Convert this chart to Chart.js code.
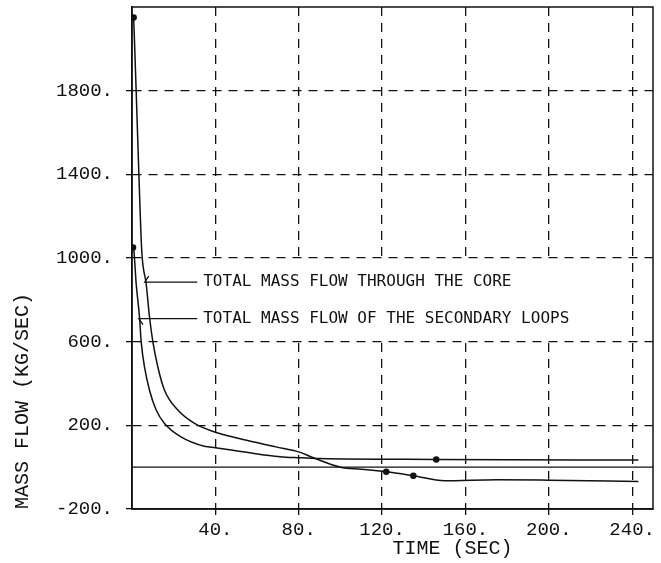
<!DOCTYPE html>
<html>
<head>
<meta charset="utf-8">
<script src="https://cdn.jsdelivr.net/npm/chart.js@4.4.1/dist/chart.umd.min.js"></script>
<style>
  html, body { margin: 0; padding: 0; background: #fff; }
</style>
</head>
<body>
<canvas id="massFlowChart" width="661" height="563"></canvas>
<script>
// values (time in s, flow in kg/s)
const coreTime = [0.8, 2.0, 3.3, 4.7, 6.8, 8.4, 10, 12.4, 15.6, 22, 30, 40, 55, 69, 80, 87, 100, 110, 122, 135, 150, 175, 200, 243];
const coreFlow = [2150, 1800, 1400, 1030, 877, 718, 600, 479, 368, 273, 209, 167, 129, 97, 73, 45, 0, -10, -22, -41, -65, -60, -62, -68];
const coreMarks = [0.8, 122, 135];

const secTime = [0.5, 0.9, 2.0, 3.6, 4.4, 6, 8.4, 11.6, 15.6, 23.5, 34.7, 40, 49, 55, 71, 80, 90, 146, 243];
const secFlow = [1050, 1036, 877, 718, 600, 479, 368, 273, 209, 145, 100, 93, 80, 71, 50, 45, 41, 37, 34];
const secMarks = [0.5, 146];

const zeroTime = [0, 250];
const zeroFlow = [0, 0];

const xTicks = [40, 80, 120, 160, 200, 240];
const yTicks = [-200, 200, 600, 1000, 1400, 1800];

const ink = '#111';
const mono = '"Liberation Mono", "DejaVu Sans Mono", monospace';

function pts(xs, ys) {
    return xs.map((x, i) => ({ x: x, y: ys[i] }));
}

// labels with leader arrows, in data units
const notes = [
    { text: 'TOTAL MASS FLOW THROUGH THE CORE', t: 6.1, v: 885, end: 31.3, barb: -1 },
    { text: 'TOTAL MASS FLOW OF THE SECONDARY LOOPS', t: 3.3, v: 710, end: 31.3, barb: 1 }
];

const plotDecor = {
    id: 'plotDecor',
    afterDatasetsDraw(chart) {
        const ctx = chart.ctx;
        const a = chart.chartArea;
        const xs = chart.scales.x, ys = chart.scales.y;
        ctx.save();
        ctx.font = '16px "DejaVu Sans Mono", monospace';

        // grid is broken behind the labels in the original
        const boxLeft = xs.getPixelForValue(notes[0].end) + 3;
        const boxRight = boxLeft + Math.max(...notes.map(n => ctx.measureText(n.text).width)) + 8;
        const boxTop = ys.getPixelForValue(1000) + 2;
        const boxBottom = ys.getPixelForValue(600) - 2;
        ctx.fillStyle = '#fff';
        ctx.fillRect(boxLeft, boxTop, boxRight - boxLeft, boxBottom - boxTop);

        ctx.strokeStyle = ink;
        ctx.fillStyle = ink;
        ctx.lineWidth = 1.5;
        ctx.setLineDash([]);
        ctx.strokeRect(a.left, a.top, a.right - a.left, a.bottom - a.top);

        ctx.lineWidth = 1.3;
        ctx.textAlign = 'left';
        ctx.textBaseline = 'middle';
        notes.forEach(n => {
            const tx = xs.getPixelForValue(n.t);
            const ty = ys.getPixelForValue(n.v);
            const ex = xs.getPixelForValue(n.end);
            ctx.beginPath();
            ctx.moveTo(ex, ty);
            ctx.lineTo(tx, ty);
            ctx.lineTo(tx + 4, ty + n.barb * 6);
            ctx.stroke();
            ctx.fillText(n.text, ex + 6, ty);
        });

        // x axis title sits right of centre in the original
        ctx.font = '20px ' + mono;
        ctx.fillText('TIME (SEC)', (a.left + a.right) / 2, 549);
        ctx.restore();
    }
};

const markRadius = marks => ctx => (ctx.raw && marks.includes(ctx.raw.x) ? 2.5 : 0);

const ctx = document.getElementById('massFlowChart').getContext('2d');
new Chart(ctx, {
    type: 'line',
    data: {
        datasets: [
            {
                label: 'Total mass flow through the core',
                data: pts(coreTime, coreFlow),
                borderColor: ink,
                backgroundColor: ink,
                borderWidth: 1.5,
                pointRadius: markRadius(coreMarks),
                cubicInterpolationMode: 'monotone'
            },
            {
                label: 'Total mass flow of the secondary loops',
                data: pts(secTime, secFlow),
                borderColor: ink,
                backgroundColor: ink,
                borderWidth: 1.5,
                pointRadius: markRadius(secMarks),
                cubicInterpolationMode: 'monotone'
            },
            {
                label: 'zero',
                data: pts(zeroTime, zeroFlow),
                borderColor: ink,
                borderWidth: 1.3,
                pointRadius: 0
            }
        ]
    },
    options: {
        responsive: false,
        animation: false,
        layout: { padding: { top: 7, right: 8, left: 0, bottom: 0 } },
        plugins: {
            legend: { display: false },
            tooltip: { enabled: false }
        },
        scales: {
            x: {
                type: 'linear',
                min: 0,
                max: 250,
                afterBuildTicks: axis => { axis.ticks = xTicks.map(v => ({ value: v })); },
                afterFit: axis => {
                    axis.height = 54;
                    axis.paddingLeft = 0;
                    axis.paddingRight = 0;
                },
                grid: { color: ink, lineWidth: 1.3, tickLength: 6 },
                border: { color: ink, width: 1.5, dash: [9, 7] },
                ticks: {
                    color: ink,
                    font: { family: mono, size: 19 },
                    padding: 4,
                    maxRotation: 0,
                    callback: v => v + '.'
                }
            },
            y: {
                min: -200,
                max: 2200,
                afterBuildTicks: axis => { axis.ticks = yTicks.map(v => ({ value: v })); },
                afterFit: axis => {
                    axis.width = 132;
                    axis.paddingTop = 0;
                    axis.paddingBottom = 0;
                },
                grid: { color: ink, lineWidth: 1.3, tickLength: 6 },
                border: { color: ink, width: 1.5, dash: [9, 7] },
                ticks: {
                    color: ink,
                    font: { family: mono, size: 19 },
                    padding: 13,
                    callback: v => v + '.'
                },
                title: {
                    display: true,
                    text: 'MASS FLOW (KG/SEC)',
                    align: 'start',
                    color: ink,
                    font: { family: mono, size: 20 },
                    padding: { top: 11, bottom: 0 }
                }
            }
        }
    },
    plugins: [plotDecor]
});
</script>
</body>
</html>
